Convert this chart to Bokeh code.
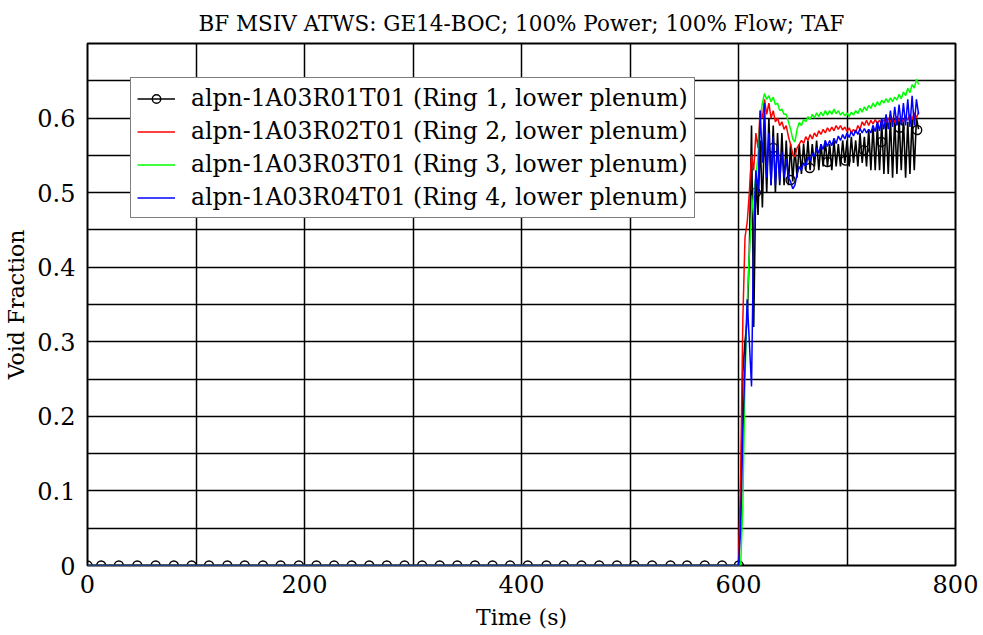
from bokeh.plotting import figure
from bokeh.models import FixedTicker, Legend, LegendItem, Range1d, ColumnDataSource
from bokeh.embed import file_html
from bokeh.resources import INLINE

# ---------------- data ----------------
time_s = [0, 600, 602, 604, 606, 608, 610, 612, 614, 616, 618,
          620, 622, 624, 626, 628, 630, 632, 634, 636, 638,
          640, 642, 644, 646, 648, 650, 652, 654, 656, 658,
          660, 662, 664, 666, 668, 670, 672, 674, 676, 678,
          680, 682, 684, 686, 688, 690, 692, 694, 696, 698,
          700, 702, 704, 706, 708, 710, 712, 714, 716, 718,
          720, 722, 724, 726, 728, 730, 732, 734, 736, 738,
          740, 742, 744, 746, 748, 750, 752, 754, 756, 758,
          760, 762, 764, 766]

ring1 = [0.0, 0.0, 0.08, 0.26, 0.30, 0.33, 0.42, 0.59, 0.32, 0.52, 0.47,
         0.57, 0.48, 0.59, 0.50, 0.60, 0.51, 0.59, 0.50, 0.58, 0.51,
         0.58, 0.51, 0.57, 0.51, 0.565, 0.515, 0.56, 0.52, 0.565, 0.525,
         0.565, 0.53, 0.57, 0.53, 0.565, 0.535, 0.57, 0.53, 0.565, 0.535,
         0.57, 0.535, 0.565, 0.53, 0.57, 0.535, 0.565, 0.535, 0.57, 0.54,
         0.57, 0.535, 0.575, 0.54, 0.57, 0.535, 0.58, 0.54, 0.575, 0.535,
         0.585, 0.53, 0.59, 0.53, 0.59, 0.53, 0.595, 0.525, 0.595, 0.525,
         0.60, 0.52, 0.60, 0.525, 0.60, 0.53, 0.60, 0.52, 0.595, 0.525,
         0.60, 0.53, 0.60, 0.585]

ring2 = [0.0, 0.0, 0.12, 0.33, 0.44, 0.46, 0.50, 0.55, 0.53, 0.58, 0.56,
         0.61, 0.60, 0.625, 0.605, 0.62, 0.60, 0.61, 0.595, 0.60, 0.59,
         0.595, 0.585, 0.59, 0.575, 0.565, 0.552, 0.548, 0.56, 0.565, 0.57,
         0.566, 0.575, 0.57, 0.578, 0.572, 0.58, 0.575, 0.583, 0.578, 0.585,
         0.58, 0.587, 0.582, 0.588, 0.583, 0.59, 0.585, 0.59, 0.584, 0.588,
         0.582, 0.587, 0.58, 0.585, 0.58, 0.59, 0.585, 0.595, 0.59, 0.597,
         0.59, 0.597, 0.592, 0.598, 0.593, 0.597, 0.592, 0.598, 0.594, 0.60,
         0.595, 0.60, 0.594, 0.602, 0.596, 0.60, 0.595, 0.603, 0.597, 0.605,
         0.598, 0.607, 0.60, 0.608]

ring3 = [0.0, 0.0, 0.0, 0.08, 0.25, 0.35, 0.42, 0.47, 0.50, 0.52, 0.55,
         0.60, 0.62, 0.633, 0.625, 0.63, 0.622, 0.628, 0.618, 0.62, 0.61,
         0.612, 0.605, 0.605, 0.595, 0.585, 0.572, 0.568, 0.585, 0.594, 0.59,
         0.598, 0.595, 0.602, 0.598, 0.605, 0.60, 0.607, 0.602, 0.608, 0.603,
         0.61, 0.604, 0.61, 0.605, 0.612, 0.606, 0.61, 0.604, 0.608, 0.603,
         0.607, 0.602, 0.608, 0.604, 0.61, 0.606, 0.613, 0.608, 0.615, 0.61,
         0.617, 0.613, 0.62, 0.615, 0.622, 0.617, 0.624, 0.62, 0.626, 0.621,
         0.627, 0.622, 0.628, 0.624, 0.632, 0.626, 0.635, 0.63, 0.64, 0.634,
         0.645, 0.64, 0.652, 0.645]

ring4 = [0.0, 0.0, 0.05, 0.18, 0.27, 0.357, 0.30, 0.24, 0.45, 0.53, 0.50,
         0.61, 0.54, 0.62, 0.52, 0.58, 0.51, 0.575, 0.51, 0.565, 0.515,
         0.555, 0.52, 0.545, 0.52, 0.515, 0.505, 0.51, 0.525, 0.535, 0.53,
         0.54, 0.535, 0.548, 0.542, 0.553, 0.548, 0.56, 0.553, 0.565, 0.558,
         0.57, 0.562, 0.57, 0.563, 0.573, 0.566, 0.576, 0.57, 0.578, 0.572,
         0.58, 0.574, 0.582, 0.576, 0.584, 0.578, 0.586, 0.58, 0.586, 0.58,
         0.585, 0.58, 0.59, 0.582, 0.595, 0.583, 0.60, 0.585, 0.605, 0.585,
         0.61, 0.588, 0.615, 0.59, 0.618, 0.59, 0.62, 0.59, 0.625, 0.588,
         0.63, 0.59, 0.625, 0.605]

marker_t = [0, 12.6, 28.9, 45.9, 62.8, 79.6, 96, 112, 128.9, 144.9, 161.7,
            178, 194.8, 211.0, 227.3, 243.5, 259.7, 275.9, 292.2, 308.4,
            324.6, 340.8, 357.1, 373.3, 389.5, 405.8, 423, 439, 455.3, 471.6,
            488, 504, 520.4, 537.3, 552.6, 568.9, 584.9, 600.3, 616, 632,
            648, 665.7, 682, 698.6, 715.5, 731.8, 748.4, 764.7]
marker_v = [0.0] * 38 + [0.50, 0.56, 0.517, 0.533, 0.541, 0.543, 0.557,
                         0.568, 0.587, 0.584]

labels = ["alpn-1A03R01T01 (Ring 1, lower plenum)",
          "alpn-1A03R02T01 (Ring 2, lower plenum)",
          "alpn-1A03R03T01 (Ring 3, lower plenum)",
          "alpn-1A03R04T01 (Ring 4, lower plenum)"]
x_ticks = [0, 200, 400, 600, 800]
y_ticks = [0, 0.1, 0.2, 0.3, 0.4, 0.5, 0.6]
y_tick_labels = ["0", "0.1", "0.2", "0.3", "0.4", "0.5", "0.6"]
x_grid = [0, 100, 200, 300, 400, 500, 600, 700, 800]
y_grid = [0, 0.05, 0.1, 0.15, 0.2, 0.25, 0.3, 0.35, 0.4, 0.45, 0.5,
          0.55, 0.6, 0.65, 0.7]

FONT = "DejaVu Serif"

src = ColumnDataSource(dict(t=time_s, r1=ring1, r2=ring2, r3=ring3, r4=ring4))
msrc = ColumnDataSource(dict(t=marker_t, v=marker_v))

p = figure(width=983, height=635, x_range=Range1d(0, 800), y_range=Range1d(0, 0.7),
           output_backend="svg", toolbar_location=None,
           min_border_left=87, min_border_right=28, min_border_top=43,
           min_border_bottom=70,
           title="BF MSIV ATWS: GE14-BOC; 100% Power; 100% Flow; TAF")

p.title.text_font = FONT
p.title.text_font_size = "21.5px"
p.title.text_font_style = "normal"
p.title.text_color = "black"
p.title.align = "center"
p.title.standoff = 16

p.outline_line_color = "black"
p.outline_line_width = 2
p.background_fill_color = "white"
p.border_fill_color = "white"

p.xaxis.ticker = FixedTicker(ticks=x_ticks)
p.yaxis.ticker = FixedTicker(ticks=y_ticks)
p.yaxis.major_label_overrides = {t: l for t, l in zip(y_ticks, y_tick_labels)}
p.xgrid.ticker = FixedTicker(ticks=x_grid)
p.ygrid.ticker = FixedTicker(ticks=y_grid)
for g in (p.xgrid, p.ygrid):
    g.grid_line_color = "black"
    g.grid_line_width = 1.5
    g.grid_line_alpha = 1.0

for ax in (p.xaxis, p.yaxis):
    ax.axis_line_color = None
    ax.major_tick_line_color = None
    ax.minor_tick_line_color = None
    ax.major_label_text_font = FONT
    ax.major_label_text_font_size = "24px"
    ax.major_label_text_color = "black"
    ax.axis_label_text_font = FONT
    ax.axis_label_text_font_size = "22px"
    ax.axis_label_text_font_style = "normal"
    ax.axis_label_text_color = "black"

p.xaxis.axis_label = "Time (s)"
p.yaxis.axis_label = "Void Fraction"
p.xaxis.major_label_standoff = 3
p.yaxis.major_label_standoff = 6
p.xaxis.axis_label_standoff = 9
p.yaxis.axis_label_standoff = 5

l1 = p.line("t", "r1", source=src, line_color="black", line_width=1.6)
m1 = p.scatter("t", "v", source=msrc, marker="circle", size=9,
               line_color="black", line_width=1.4, fill_color=None)
l2 = p.line("t", "r2", source=src, line_color="#ff0000", line_width=1.5)
l3 = p.line("t", "r3", source=src, line_color="#00ff00", line_width=1.5)
l4 = p.line("t", "r4", source=src, line_color="#0000ff", line_width=1.5)

legend = Legend(items=[LegendItem(label=labels[0], renderers=[l1, m1]),
                       LegendItem(label=labels[1], renderers=[l2]),
                       LegendItem(label=labels[2], renderers=[l3]),
                       LegendItem(label=labels[3], renderers=[l4])],
                location=(43, 347))
legend.label_text_font = FONT
legend.label_text_font_size = "23.5px"
legend.label_text_color = "black"
legend.border_line_color = "black"
legend.border_line_width = 1.5
legend.background_fill_color = "white"
legend.background_fill_alpha = 1.0
legend.glyph_width = 38
legend.glyph_height = 21
legend.label_height = 21
legend.label_standoff = 16
legend.padding = 6
legend.spacing = 5
legend.margin = 0
p.add_layout(legend, "center")

open("out.html", "w").write(file_html(p, INLINE))
